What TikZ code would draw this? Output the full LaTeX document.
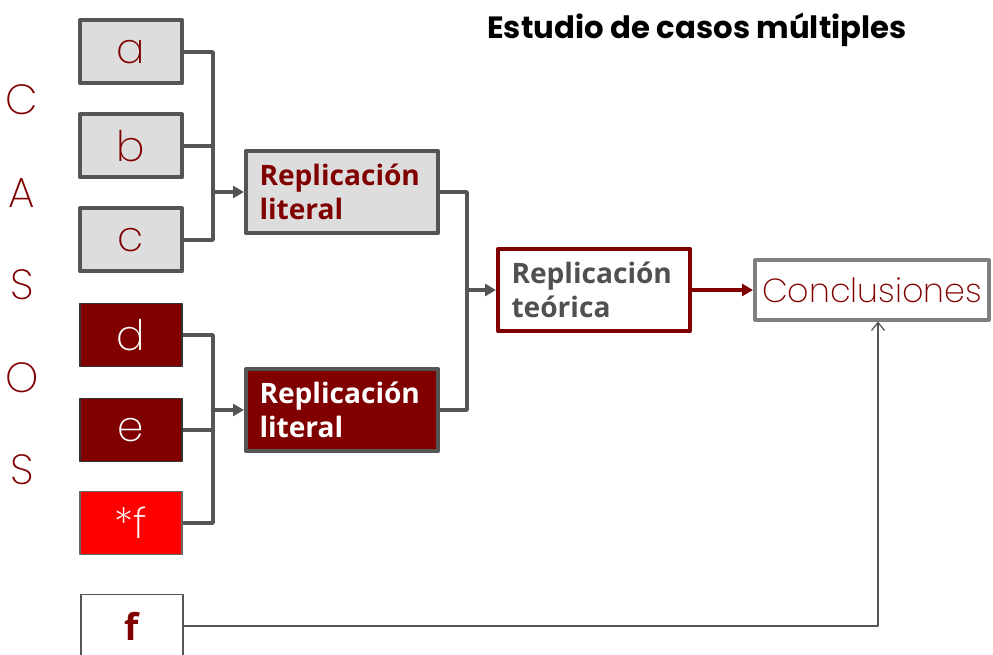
\documentclass[tikz,border=0pt]{standalone}
\usepackage{fontspec}
\setmainfont{Open Sans}
\newfontfamily\thinfont{Poppins ExtraLight}
\newfontfamily\titlefont{Poppins}
\usetikzlibrary{arrows.meta}
\definecolor{granate}{RGB}{128,0,0}
\definecolor{grisfondo}{RGB}{221,221,221}
\definecolor{grisborde}{RGB}{85,85,85}
\definecolor{gristexto}{RGB}{80,80,80}
\definecolor{grisclaro}{RGB}{128,128,128}
\definecolor{rojo}{RGB}{255,0,0}
\tikzset{
	caso/.style={minimum width=20.4mm, minimum height=12.6mm, inner sep=0pt, font=\thinfont\fontsize{24}{26}\selectfont},
	casogris/.style={caso, fill=grisfondo, draw=grisborde, line width=0.8mm, text=granate},
	casogranate/.style={caso, fill=granate, draw=black!80, line width=0.3mm, text=white},
	casorojo/.style={caso, fill=rojo, draw=black!60, line width=0.3mm, text=white},
	casoblanco/.style={caso, fill=white, draw=grisborde, line width=0.3mm, text=granate, font=\bfseries\fontsize{21}{24}\selectfont},
	replica/.style={minimum width=38.4mm, minimum height=16.2mm, text width=33mm, align=left, inner sep=2.7mm, line width=0.8mm, font=\bfseries\fontsize{16}{19}\selectfont},
	letra/.style={text=granate, font=\thinfont\fontsize{24}{26}\selectfont},
	conector/.style={draw=grisborde, line width=0.75mm},
	flecha/.style={conector, -{Triangle[length=2.2mm,width=2.4mm]}}
}
\begin{document}
\begin{tikzpicture}[x=0.2mm, y=-0.2mm, line join=round]
	\useasboundingbox (0,0) rectangle (993,655);
	\node[font=\titlefont\bfseries\fontsize{17.5}{20}\selectfont] (titulo) at (697,30) {Estudio de casos múltiples};
	\foreach \l/\y [count=\i] in {C/100,A/193,S/285,O/378,S/470} \node[letra] (letra\i) at (22,\y) {\l};
	% casos
	\node[casogris] (a) at (131,52) {a};
	\node[casogris] (b) at (131,146) {b};
	\node[casogris] (c) at (131,240) {c};
	\node[casogranate] (d) at (131,335) {d};
	\node[casogranate] (e) at (131,430) {e};
	\node[casorojo] (festrella) at (131,523) {*f};
	\node[casoblanco] (f) at (132,626) {f};
	% replicaciones
	\node[replica, fill=grisfondo, draw=grisborde, text=granate] (lit1) at (342,192) {Replicación\\literal};
	\node[replica, fill=granate, draw=grisborde, text=white] (lit2) at (342,410) {Replicación\\literal};
	\node[replica, fill=white, draw=granate, text=gristexto] (teo) at (594,290) {Replicación\\teórica};
	\node[draw=grisclaro, line width=0.8mm, minimum width=46.8mm, minimum height=11.8mm, inner sep=0pt, text=granate, font=\thinfont\fontsize{19}{21}\selectfont] (concl) at (872,290) {Conclusiones};
	\coordinate (j1) at (213,192);
	\coordinate (j2) at (213,410);
	\coordinate (j3) at (467,290);
	\coordinate (jf) at (878,0);
	\draw[conector] (a.east) -| (j1) (c.east) -| (j1) (b.east) -- (b.east -| j1);
	\draw[flecha] (j1) -- (lit1.west);
	\draw[conector] (d.east) -| (j2) (festrella.east) -| (j2) (e.east) -- (e.east -| j2);
	\draw[flecha] (j2) -- (lit2.west);
	\draw[conector] (lit1.east) -| (j3) (lit2.east) -| (j3);
	\draw[flecha] (j3) -- (teo.west);
	\draw[flecha, draw=granate] (teo.east) -- (concl.west);
	\draw[draw=grisborde, line width=0.25mm, -{Straight Barb[length=1.6mm,width=2.6mm]}] (f.east) -| (concl.south -| jf);
\end{tikzpicture}
\end{document}
